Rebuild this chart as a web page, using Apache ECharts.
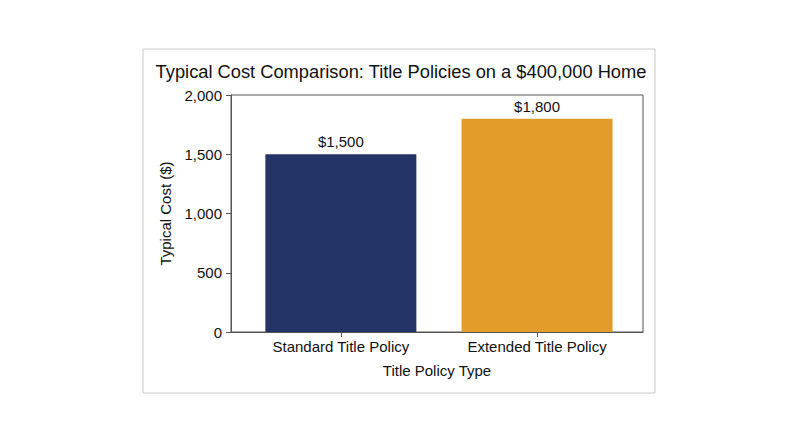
<!DOCTYPE html>
<html>
<head>
<meta charset="utf-8">
<script src="https://cdn.jsdelivr.net/npm/echarts@6/dist/echarts.min.js"></script>
<style>
  html, body { margin: 0; padding: 0; background: #fff; }
  #chart { width: 800px; height: 447px; }
</style>
</head>
<body>
<div id="chart"></div>
<script>
// data
const categories = ['Standard Title Policy', 'Extended Title Policy'];
const costs = [1500, 1800];
const barColors = ['#243466', '#E39C29'];

window.addEventListener('load', () => {
  let chart = echarts.init(document.getElementById('chart'), null, { renderer: 'svg' });

  const font = 'Liberation Sans, Arial, sans-serif';
  const axisColor = '#555';

  let option = {
    backgroundColor: '#fff',
    animation: false,
    title: {
      text: 'Typical Cost Comparison: Title Policies on a $400,000 Home',
      left: 396,
      top: 57,
      textAlign: 'center',
      textStyle: { fontFamily: font, fontSize: 18.3, fontWeight: 'normal', color: '#111' }
    },
    graphic: [{
      type: 'rect',
      shape: { x: 143, y: 49, width: 512, height: 344 },
      style: { fill: 'none', stroke: '#c8c8c8', lineWidth: 1 },
      silent: true
    }],
    grid: { left: 231, top: 95, width: 412, height: 237, show: true, borderColor: axisColor, borderWidth: 1 },
    xAxis: {
      type: 'value',
      min: -0.56,
      max: 1.54,
      name: 'Title Policy Type',
      nameLocation: 'middle',
      nameGap: 31,
      nameTextStyle: { fontFamily: font, fontSize: 15, color: '#111' },
      axisLine: { show: true, onZero: false, lineStyle: { color: axisColor } },
      axisTick: { show: true, customValues: [0, 1], length: 5, lineStyle: { color: axisColor } },
      axisLabel: {
        customValues: [0, 1],
        formatter: v => categories[Math.round(v)],
        fontFamily: font, fontSize: 15, color: '#111', margin: 7
      },
      splitLine: { show: false }
    },
    yAxis: {
      type: 'value',
      min: 0,
      max: 2000,
      interval: 500,
      name: 'Typical Cost ($)',
      nameLocation: 'middle',
      nameGap: 58,
      nameTextStyle: { fontFamily: font, fontSize: 15, color: '#111' },
      axisLine: { show: true, onZero: false, lineStyle: { color: axisColor } },
      axisTick: { show: true, length: 5, lineStyle: { color: axisColor } },
      axisLabel: {
        fontFamily: font, fontSize: 15, color: '#111', margin: 9,
        formatter: v => v.toLocaleString('en-US')
      },
      splitLine: { show: false }
    },
    series: [{
      type: 'bar',
      barWidth: 151,
      data: costs.map((c, i) => ({ value: [i, c], itemStyle: { color: barColors[i] } })),
      label: {
        show: true,
        position: 'top',
        distance: 5,
        formatter: p => '$' + p.value[1].toLocaleString('en-US'),
        fontFamily: font, fontSize: 15, color: '#111'
      }
    }]
  };

  chart.setOption(option);
});
</script>
</body>
</html>
